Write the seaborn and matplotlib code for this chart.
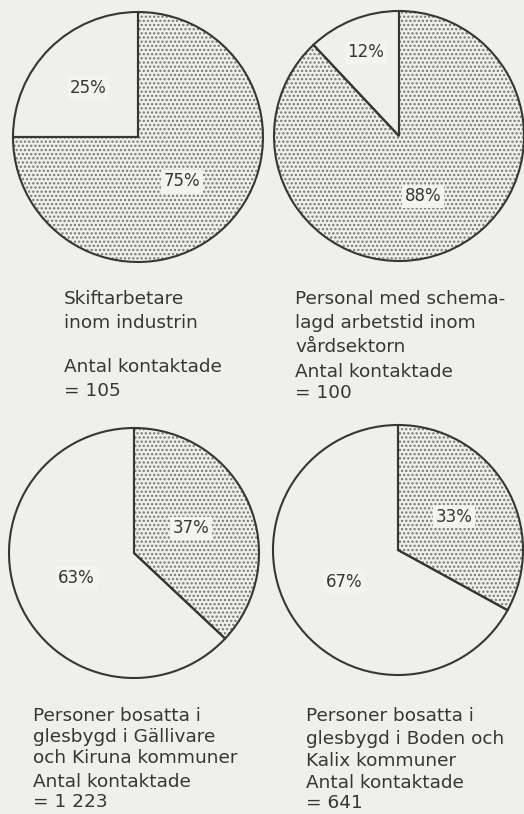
import numpy as np
import pandas as pd
import seaborn as sns
import matplotlib.pyplot as plt

# Data
groups = [
    "Skiftarbetare\ninom industrin",
    "Personal med schema-\nlagd arbetstid inom\nvårdsektorn",
    "Personer bosatta i\nglesbygd i Gällivare\noch Kiruna kommuner",
    "Personer bosatta i\nglesbygd i Boden och\nKalix kommuner",
]
contacted = ["105", "100", "1 223", "641"]
share_dotted = [75, 88, 37, 33]
share_blank = [25, 12, 63, 67]

# Layout (pixels, figure 524x814)
W, H = 524, 814
centers = [(138, 137), (399, 136), (134, 553), (398, 550)]
radius = 125
label_dist = [(0.50, 0.56), (0.52, 0.72), (0.50, 0.50), (0.52, 0.50)]
caption_xy = [(64, 290), (295, 290), (33, 707), (306, 707)]
caption_spacing = [1.45, 1.42, 1.2, 1.33]
count_xy = [(64, 358), (295, 363), (33, 773), (306, 774)]
count_spacing = [1.42, 1.22, 1.15, 1.12]

bg = "#efefeb"
ink = "#363636"
dots = "#767676"

sns.set_theme(style="white")
plt.rcParams['font.family'] = ['DejaVu Sans']
plt.rcParams['hatch.linewidth'] = 1.1

fig = plt.figure(figsize=(W / 100, H / 100), dpi=100, facecolor=bg)

lim = 1.04
for i in range(4):
    cx, cy = centers[i]
    size = 2 * radius * lim
    ax = fig.add_axes([(cx - radius * lim) / W, 1 - (cy + radius * lim) / H,
                       size / W, size / H])
    ax.set_facecolor(bg)
    vals = [share_dotted[i], share_blank[i]]

    # stippled fill (hatch takes the edge colour, so draw fill and outline apart)
    wedges, _ = ax.pie(vals, startangle=90, counterclock=False, radius=1,
                       colors=[bg, bg],
                       wedgeprops=dict(linewidth=0, edgecolor=dots))
    wedges[0].set_hatch("....")
    wedges[1].set_edgecolor(bg)

    # outlines
    outl, _ = ax.pie(vals, startangle=90, counterclock=False, radius=1,
                     colors=["none", "none"],
                     wedgeprops=dict(linewidth=1.5, edgecolor=ink, fill=False))

    # percentage labels
    for w, v, d in zip(outl, vals, label_dist[i]):
        ang = np.deg2rad((w.theta1 + w.theta2) / 2)
        ax.text(d * np.cos(ang), d * np.sin(ang), f"{v}%", ha="center", va="center",
                fontsize=12, color=ink,
                bbox=dict(boxstyle="square,pad=0.15", facecolor="#f3f3ef", edgecolor="none"))
    ax.set_xlim(-lim, lim)
    ax.set_ylim(-lim, lim)
    ax.set_axis_off()

    x, y = caption_xy[i]
    fig.text(x / W, 1 - y / H, groups[i], ha="left", va="top", fontsize=13.3,
             color=ink, linespacing=caption_spacing[i])
    x, y = count_xy[i]
    fig.text(x / W, 1 - y / H, "Antal kontaktade\n= " + contacted[i], ha="left", va="top",
             fontsize=13.3, color=ink, linespacing=count_spacing[i])

fig.savefig("out.png", dpi=100, facecolor=bg)
